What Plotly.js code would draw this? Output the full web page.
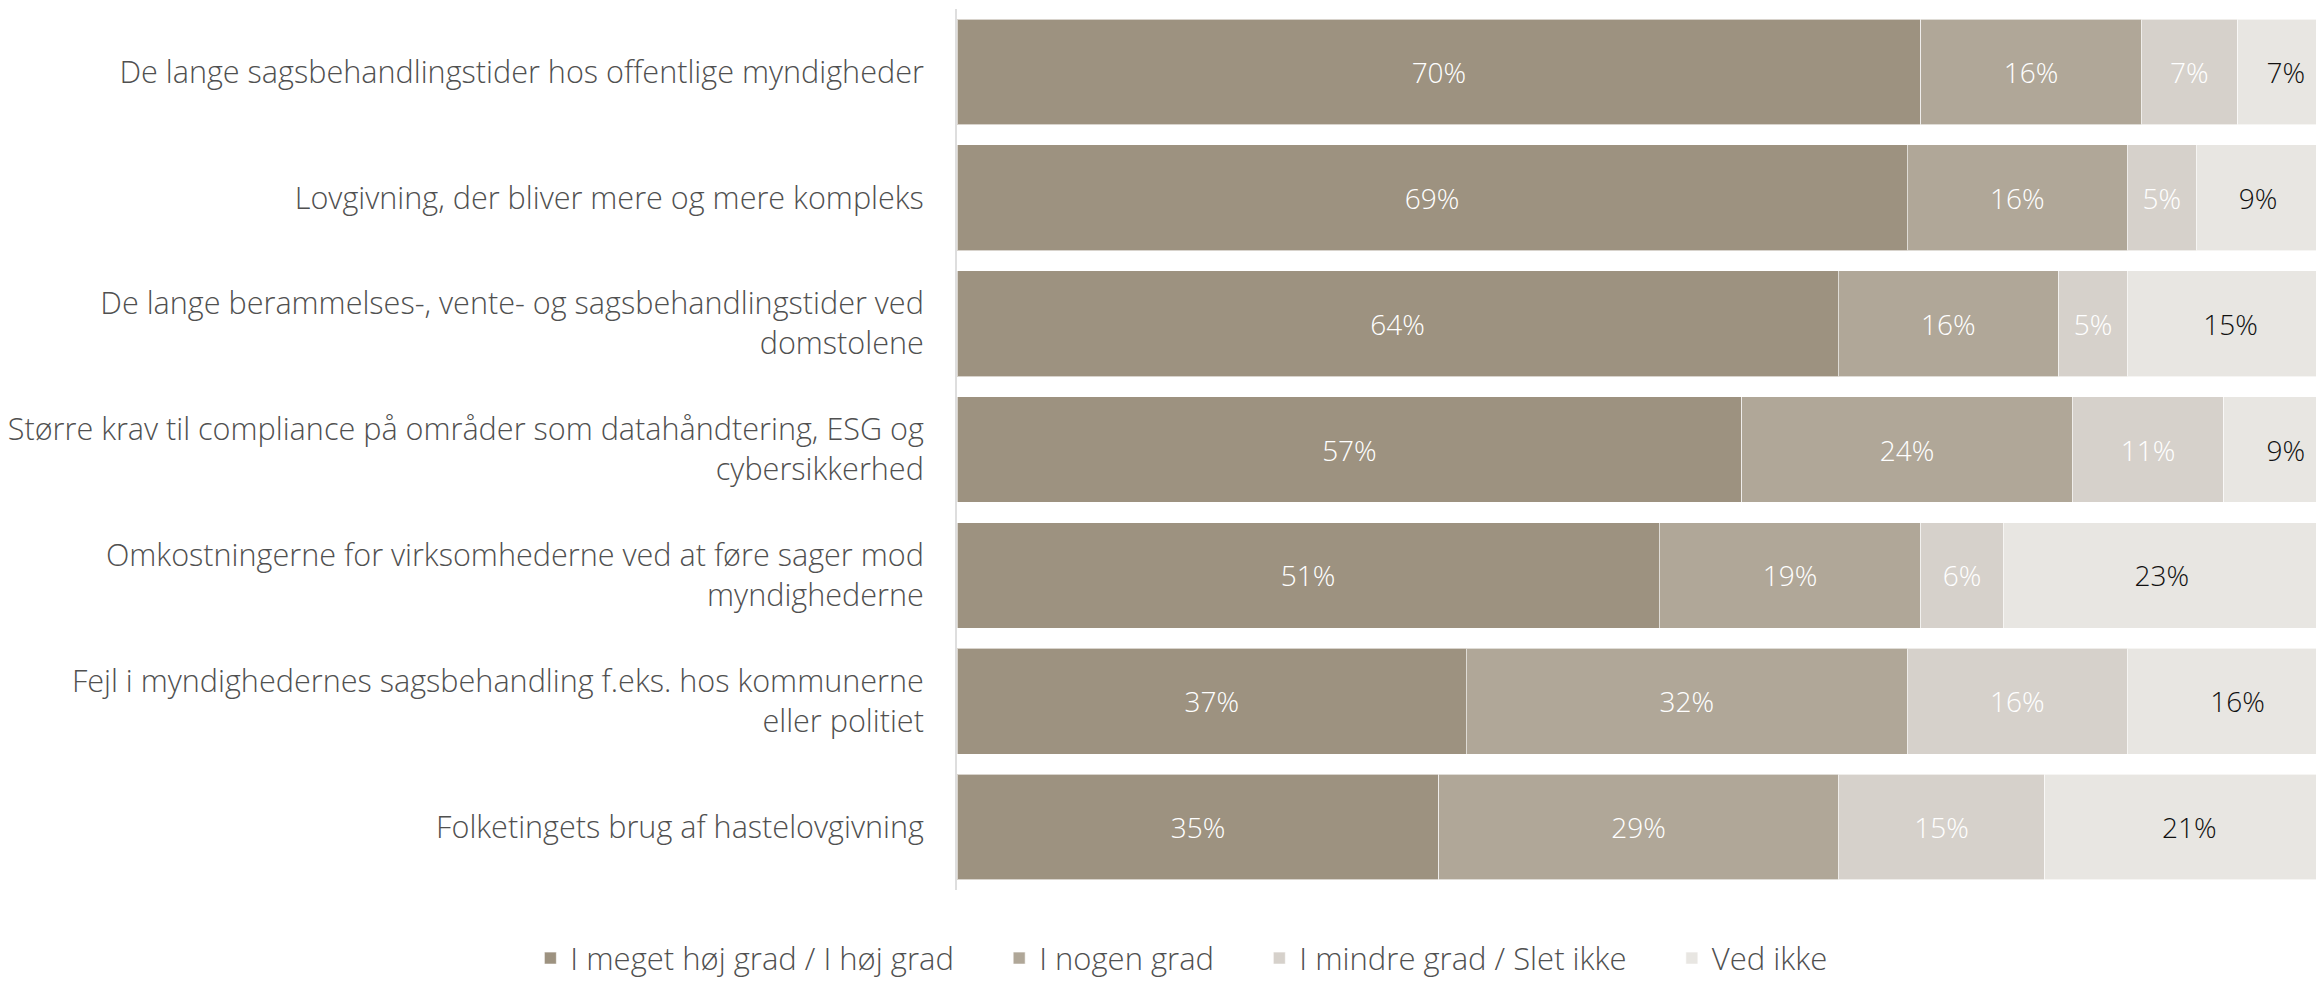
<!DOCTYPE html>
<html>
<head>
<meta charset="utf-8">
<script src="https://cdn.plot.ly/plotly-3.0.1.min.js"></script>
<style>
html, body { margin: 0; padding: 0; background: #ffffff; overflow: hidden; }
#chart { width: 2316px; height: 983px; }
</style>
</head>
<body>
<div id="chart"></div>
<script>
const categories = [
  "De lange sagsbehandlingstider hos offentlige myndigheder",
  "Lovgivning, der bliver mere og mere kompleks",
  "De lange berammelses-, vente- og sagsbehandlingstider ved<br>domstolene",
  "Større krav til compliance på områder som datahåndtering, ESG og<br>cybersikkerhed",
  "Omkostningerne for virksomhederne ved at føre sager mod<br>myndighederne",
  "Fejl i myndighedernes sagsbehandling f.eks. hos kommunerne<br>eller politiet",
  "Folketingets brug af hastelovgivning"
];
const seriesNames = ["I meget høj grad / I høj grad", "I nogen grad", "I mindre grad / Slet ikke", "Ved ikke"];
const hoejGrad   = [70, 69, 64, 57, 51, 37, 35];
const nogenGrad  = [16, 16, 16, 24, 19, 32, 29];
const mindreGrad = [7, 5, 5, 11, 6, 16, 15];
const vedIkke    = [7, 9, 15, 9, 23, 16, 21];

const seriesValues = [hoejGrad, nogenGrad, mindreGrad, vedIkke];
const colors = ["#9d9280", "#b0a798", "#d6d1cb", "#e8e6e2"];
const textColors = ["#ffffff", "#ffffff", "#ffffff", "#111111"];
const legendPad = "\u00a0\u00a0\u00a0\u00a0\u00a0";

const traces = seriesValues.map((vals, i) => ({
  type: "bar",
  orientation: "h",
  name: seriesNames[i] + (i < seriesNames.length - 1 ? legendPad : ""),
  y: categories,
  x: vals,
  marker: { color: colors[i], line: { color: "rgba(255,255,255,0.6)", width: 1 } },
  texttemplate: "%{x}%",
  textposition: "inside",
  insidetextanchor: "middle",
  textangle: 0,
  constraintext: "none",
  textfont: { family: "Open Sans", size: 28, color: textColors[i], weight: 300 },
  hoverinfo: "skip"
}));

const layout = {
  width: 2316,
  height: 983,
  barmode: "stack",
  bargap: 0.16,
  paper_bgcolor: "#ffffff",
  plot_bgcolor: "#ffffff",
  margin: { l: 957, r: 0, t: 9, b: 93, pad: 0 },
  font: { family: "Open Sans", color: "#555555" },
  xaxis: {
    range: [0, 98.7],
    showgrid: false,
    zeroline: false,
    showticklabels: false,
    showline: false,
    fixedrange: true
  },
  yaxis: {
    autorange: "reversed",
    showgrid: false,
    zeroline: false,
    showline: true,
    linecolor: "#dedede",
    linewidth: 2,
    ticks: "",
    ticklabelstandoff: 25,
    tickfont: { family: "Open Sans", size: 30.6, color: "#505050", weight: 300 },
    fixedrange: true
  },
  showlegend: true,
  legend: {
    orientation: "h",
    xref: "container",
    yref: "container",
    x: 0.229,
    xanchor: "left",
    y: 0.025,
    yanchor: "middle",
    traceorder: "normal",
    font: { family: "Open Sans", size: 31, color: "#505050", weight: 300 },
    itemclick: false,
    itemdoubleclick: false
  }
};

Plotly.newPlot("chart", traces, layout, { displayModeBar: false, staticPlot: true });
</script>
</body>
</html>
